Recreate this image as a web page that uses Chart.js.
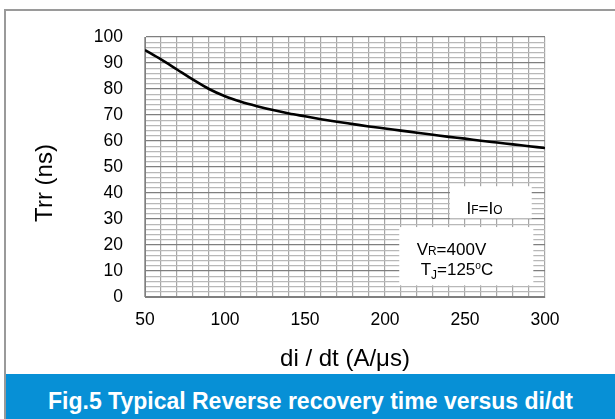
<!DOCTYPE html>
<html>
<head>
<meta charset="utf-8">
<script src="https://cdn.jsdelivr.net/npm/chart.js@4.4.0/dist/chart.umd.min.js"></script>
<style>
  html,body{margin:0;padding:0;background:#fff;}
  body{width:615px;height:419px;position:relative;overflow:hidden;font-family:"Liberation Sans",Arial,sans-serif;}
  #wrap{position:absolute;left:0;top:0;width:615px;height:374px;}
  .frame-top{position:absolute;left:4px;top:9px;width:611px;height:2px;background:#9a9a9a;}
  .frame-left{position:absolute;left:4px;top:9px;width:2px;height:410px;background:#9a9a9a;}
  .banner{position:absolute;left:6px;top:374px;width:609px;height:45px;background:#0790d6;}
  .banner span{position:absolute;left:0;right:0;top:16px;line-height:23px;text-align:center;
    color:#fff;font-weight:bold;font-size:23px;white-space:nowrap;}
</style>
</head>
<body>
<div class="frame-top"></div>
<div class="frame-left"></div>
<div id="wrap"><canvas id="trrChart"></canvas></div>
<div class="banner"><span>Fig.5 Typical Reverse recovery time versus di/dt</span></div>

<script>
// di/dt (A/us) and Trr (ns)
const diDt = [50,60,70,80,90,100,110,120,130,140,150,160,170,180,190,200,210,220,230,240,250,260,270,280,290,300];
const trr  = [95,91.4,87.5,83.6,80.0,77.2,75.1,73.4,71.9,70.6,69.5,68.4,67.4,66.5,65.6,64.8,64.0,63.2,62.4,61.6,60.9,60.1,59.4,58.7,58.0,57.3];

const xTickLabels = [50,100,150,200,250,300];
const yTickLabels = [0,10,20,30,40,50,60,70,80,90,100];

// condition notes: [text, kind]  kind: sm = small on baseline, sub, sup
const noteIF = [['I'],['F','sm'],['='],['I'],['O','sm']];
const noteVR = [['V'],['R','sm'],['=400V']];
const noteTJ = [['T'],['J','sub'],['=125'],['o','sup'],['C']];

const FONT = '"Liberation Sans", Arial, sans-serif';
Chart.defaults.font.family = FONT;
Chart.defaults.color = '#000';

function drawRich(ctx, parts, x0, y0, size){
  let cx = x0;
  parts.forEach(([t,k])=>{
    const s = k==='sup' ? size*0.6 : k ? size*0.7 : size;
    ctx.font = `${s}px ${FONT}`;
    const dy = k==='sub' ? size*0.2 : k==='sup' ? -size*0.4 : 0;
    ctx.fillText(t, cx, y0+dy);
    cx += ctx.measureText(t).width;
  });
}

// white note boxes and texts, placed in data units
const notesPlugin = {
  id:'notes',
  afterDatasetsDraw(chart){
    const {ctx, scales:{x,y}} = chart;
    const boxes = [
      {x0:240.6, x1:291.7, y0:30.2, y1:42.6},
      {x0:208.9, x1:292.7, y0:4.5,  y1:26.9}
    ];
    ctx.save();
    ctx.fillStyle = '#fff';
    boxes.forEach(b=>{
      const l = x.getPixelForValue(b.x0), r = x.getPixelForValue(b.x1);
      const t = y.getPixelForValue(b.y1), d = y.getPixelForValue(b.y0);
      ctx.fillRect(l, t, r-l, d-t);
    });
    ctx.fillStyle = '#000';
    ctx.textBaseline = 'alphabetic';
    ctx.textAlign = 'left';
    drawRich(ctx, noteIF, x.getPixelForValue(251),   y.getPixelForValue(32.1), 17);
    drawRich(ctx, noteVR, x.getPixelForValue(219.8), y.getPixelForValue(16.0), 17);
    drawRich(ctx, noteTJ, x.getPixelForValue(222.3), y.getPixelForValue(8.3),  17);
    ctx.restore();
  },
  afterDraw(chart){
    // y axis title, sits a bit below the plot centre like the source
    const {ctx, chartArea:a} = chart;
    ctx.save();
    ctx.translate(a.left - 93, (a.top + a.bottom)/2 + 16);
    ctx.rotate(-Math.PI/2);
    ctx.font = `24px ${FONT}`;
    ctx.fillStyle = '#000';
    ctx.textAlign = 'center';
    ctx.textBaseline = 'alphabetic';
    ctx.fillText('Trr (ns)', 0, 0);
    ctx.restore();
  }
};

new Chart(document.getElementById('trrChart'), {
  type:'line',
  data:{
    datasets:[{
      data: diDt.map((v,i)=>({x:v, y:trr[i]})),
      borderColor:'#000', borderWidth:2.6, pointRadius:0,
      cubicInterpolationMode:'monotone', fill:false
    }]
  },
  options:{
    responsive:true, maintainAspectRatio:false, animation:false,
    layout:{padding:{top:37, right:70, left:0, bottom:0}},
    plugins:{legend:{display:false}, tooltip:{enabled:false}},
    scales:{
      x:{
        type:'linear', min:50, max:300,
        afterFit: s => { s.height = 77; },
        grid:{color:'#a6a6a6', lineWidth:1.2, drawTicks:false},
        border:{display:true, color:'#7f7f7f'},
        ticks:{stepSize:10, autoSkip:false, maxRotation:0, padding:13,
          font:{size:17.5},
          callback: v => xTickLabels.includes(Math.round(v)) ? String(Math.round(v)) : ''},
        title:{display:true, text:'di / dt (A/\u03bcs)', font:{size:24}, padding:{top:0, bottom:0}}
      },
      y:{
        min:0, max:100,
        afterFit: s => { s.width = 145; },
        grid:{drawTicks:false, lineWidth:1.2,
          color: c => Math.round(c.tick.value) % 10 === 0 ? '#7f7f7f' : '#b8b8b8'},
        border:{display:true, color:'#7f7f7f'},
        ticks:{stepSize:2, autoSkip:false, padding:22, font:{size:17.5},
          callback: v => yTickLabels.includes(Math.round(v)) ? String(Math.round(v)) : ''}
      }
    }
  },
  plugins:[notesPlugin]
});
</script>
</body>
</html>
